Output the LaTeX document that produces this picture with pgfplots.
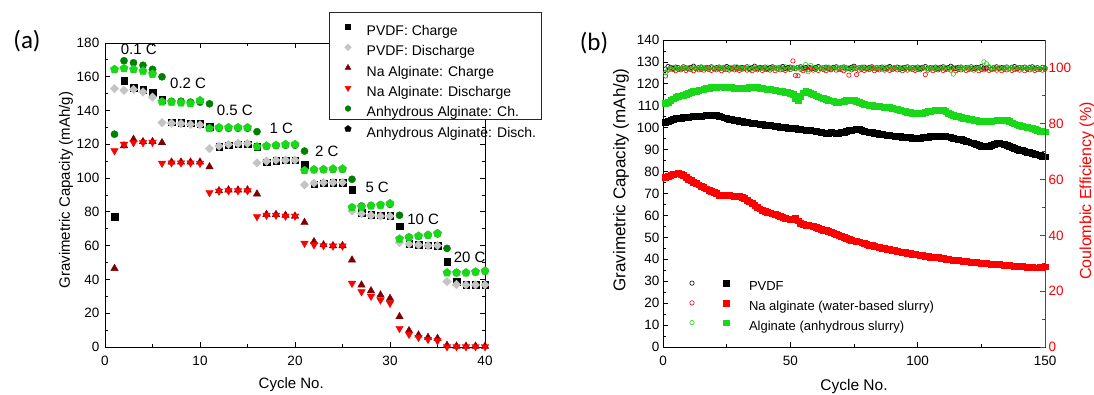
\documentclass[border=0pt]{standalone}
\usepackage{fontspec}
\setmainfont{Liberation Sans}
\newfontfamily\panelfont{Carlito}
\usepackage{pgfplots}
\usepackage{pgfplotstable}
\pgfplotsset{compat=1.18}
\definecolor{dgreen}{RGB}{0,128,0}
\definecolor{bgreen}{RGB}{25,215,25}
\definecolor{wine}{RGB}{128,0,0}
\definecolor{lgray}{RGB}{196,196,196}

\pgfplotstableread{
n pc pd nc nd ac ad
1 77 153 46.5 116.2 126 164.4
2 157.5 152 119.2 120 169.5 165
3 153.5 152.5 123 121 168.3 164.4
4 152.5 151 121.6 121 166.8 163.4
5 150.5 148 121.6 121.2 164.4 161.6
6 146.5 132.8 121 108.8 160 145.2
7 133 132.5 109.5 109 145.5 145
8 132.8 132.3 109.5 109 145.5 144.6
9 132.5 131.8 109.5 109 145 144.2
10 132.3 131.5 109.5 108.8 145 146
11 130.5 117.5 106.7 91.4 144 129.4
12 118.5 119 92.5 92.3 129.5 130
13 119.5 120 93 92.5 129.5 130
14 120 120.5 93 92.5 129.5 130
15 120 120.5 93 92.5 129.5 130
16 118.5 109 90.6 77.2 127.5 118.6
17 109.5 110 78.5 78 119 119
18 110.2 110.7 78.5 78 119.3 119.5
19 110.5 110.7 78 77.5 119.5 120
20 110.5 110.7 77.5 77.5 119.5 120
21 108 96 73.8 61.4 116 104.5
22 96.5 97 62.4 60.5 105 105
23 97 97.3 60.5 60 105 105.2
24 97.2 97.5 60 59.8 105.2 105.5
25 97.3 97.5 60 59.8 105.3 105.5
26 93 80.5 51.5 37.7 99.3 82.7
27 79.5 79 36.7 32.7 83.5 83
28 78.5 78 33.3 30 83.8 83.5
29 78 77.5 30.8 27.8 84.2 84
30 77.8 77.5 28.8 25.9 84.5 85
31 71.6 61.8 18 11 78 64
32 61 61 9.7 7.5 65 65
33 60.5 60.5 7.1 5.7 65.7 65.7
34 60.2 60 5.7 4.5 66.3 66.3
35 60 60 5.1 3.7 67 67.3
36 50.5 38.7 1 0.2 58.4 44
37 38.7 37 0.5 0.2 44 44
38 37 36.8 0.5 0.2 44 44
39 37 36.8 0.5 0.2 44.5 44.5
40 37 36.8 0.5 0.2 45 45
}\tabA

\pgfplotstableread{
n pv na alg bk rd gr
1 102.5 77.5 111.0 99.6 97.1 98.3
2 103.0 78.0 111.8 100.5 99.2 99.5
3 103.5 78.4 112.5 100.2 99.6 99.9
4 104.0 78.8 113.2 99.8 99.4 100.2
5 104.5 79.0 113.8 100.3 99.0 99.7
6 104.6 79.1 114.2 100.1 99.5 100.0
7 104.5 78.8 114.6 99.7 99.3 99.8
8 104.8 78.2 115.0 100.4 99.8 100.3
9 105.0 77.5 115.4 100.0 99.1 99.9
10 104.9 76.7 115.8 99.9 99.6 100.1
11 105.0 76.0 116.2 100.2 99.4 99.6
12 105.1 75.3 116.5 100.6 99.0 100.2
13 105.3 74.6 116.8 99.8 99.7 99.9
14 105.2 74.0 117.0 100.1 99.3 100.0
15 105.4 73.4 117.3 100.3 99.5 100.4
16 105.5 72.8 117.6 99.9 99.2 99.8
17 105.6 72.2 117.9 100.2 99.8 100.1
18 105.7 71.6 118.1 100.0 99.4 99.7
19 105.8 71.0 118.3 100.4 99.1 100.2
20 105.9 70.5 118.5 99.8 99.6 100.0
21 105.7 70.0 118.6 100.1 99.3 99.9
22 105.4 69.4 118.7 100.3 99.7 100.3
23 105.0 69.0 118.7 99.9 99.0 99.8
24 104.6 69.2 118.6 100.2 99.5 100.1
25 104.3 69.3 118.5 100.5 99.4 100.0
26 104.0 69.1 118.4 100.0 99.2 99.7
27 103.8 69.0 118.3 99.7 99.8 100.2
28 103.6 68.9 118.2 100.3 99.3 99.9
29 103.3 68.8 118.1 100.1 99.6 100.4
30 103.0 68.6 118.0 99.9 99.1 100.0
31 102.8 68.3 118.0 100.2 99.5 99.8
32 102.6 67.8 118.1 100.0 99.8 100.1
33 102.5 67.1 118.2 100.4 99.2 99.9
34 102.3 66.3 118.3 99.8 99.4 100.3
35 102.1 65.5 118.4 100.1 99.0 99.7
36 101.9 64.6 118.4 100.6 99.6 100.0
37 101.8 63.8 118.3 99.9 99.3 100.2
38 101.7 63.1 118.2 100.2 99.7 99.8
39 101.5 62.5 118.0 100.0 99.1 100.1
40 101.3 62.0 117.8 100.3 99.5 99.9
41 101.2 61.6 117.6 99.8 99.4 100.3
42 101.0 61.2 117.4 100.1 99.2 99.7
43 100.9 60.8 117.3 100.4 99.8 100.0
44 100.8 60.4 117.1 100.0 99.0 100.2
45 100.6 60.0 116.9 99.9 99.6 99.8
46 100.4 59.6 116.7 100.2 99.3 100.1
47 100.3 59.2 116.5 100.5 99.5 99.9
48 100.1 58.8 116.3 99.8 99.1 100.4
49 99.9 58.5 116.1 100.1 99.7 99.6
50 99.7 58.2 115.8 100.3 99.4 100.0
51 99.8 58.3 115.2 100.0 102.5 100.2
52 99.6 58.8 113.5 99.7 97.3 99.8
53 99.4 57.6 112.5 100.2 97.2 100.1
54 99.3 56.4 114.5 100.4 99.5 99.9
55 99.1 56.0 116.0 99.9 99.0 100.3
56 99.0 55.7 116.6 100.1 99.6 101.2
57 98.9 55.5 116.3 100.3 99.3 98.6
58 98.8 55.3 115.8 100.0 99.8 100.9
59 98.6 55.0 115.2 99.8 99.2 100.0
60 98.4 54.6 114.6 100.2 99.5 99.8
61 98.2 54.2 114.1 100.5 99.1 100.2
62 98.0 53.8 113.7 99.9 99.7 99.9
63 97.7 53.4 113.3 100.1 99.4 100.1
64 97.5 53.1 112.9 100.3 99.0 99.7
65 97.6 52.9 112.6 100.0 99.6 100.3
66 97.8 52.5 112.3 99.6 99.3 100.0
67 97.7 52.0 112.0 100.2 99.8 99.8
68 97.6 51.5 111.8 100.4 99.2 100.2
69 97.5 51.0 111.7 99.9 99.5 99.9
70 97.8 50.5 111.9 100.1 99.4 100.1
71 98.1 50.0 112.2 100.3 99.0 100.4
72 98.4 49.5 112.4 100.0 99.6 99.8
73 98.7 49.1 112.6 99.8 97.4 100.0
74 98.9 48.8 112.7 100.2 99.3 99.7
75 99.1 48.5 112.5 100.6 99.7 100.2
76 99.3 48.2 112.1 99.9 97.6 99.9
77 99.5 48.0 111.6 100.1 99.2 100.1
78 99.0 47.6 111.2 100.0 99.5 100.3
79 98.5 47.2 110.8 100.3 99.1 99.8
80 98.2 46.9 110.5 99.8 99.6 100.0
81 98.0 46.6 110.3 100.2 99.4 99.9
82 97.8 46.3 110.1 100.4 99.8 100.2
83 97.6 46.0 109.9 99.9 99.0 99.7
84 97.4 45.7 109.8 100.1 99.5 100.1
85 97.2 45.4 109.7 100.0 99.3 100.0
86 97.0 45.1 109.6 100.3 99.7 99.8
87 96.8 44.9 109.5 99.7 99.2 100.3
88 96.6 44.7 109.4 100.2 99.6 99.9
89 96.5 44.5 109.2 100.5 99.1 100.1
90 96.4 44.2 109.0 99.9 99.4 99.7
91 96.3 44.0 108.7 100.1 99.8 100.2
92 96.1 43.7 108.4 100.3 99.3 100.0
93 96.0 43.5 108.1 100.0 99.5 99.8
94 95.8 43.3 107.8 99.8 99.0 100.1
95 95.7 43.1 107.5 100.2 99.6 99.9
96 95.6 42.9 107.2 100.4 99.2 100.3
97 95.5 42.7 107.0 99.9 99.7 99.7
98 95.4 42.5 106.8 100.1 99.4 100.0
99 95.3 42.3 106.7 100.0 99.1 100.2
100 95.2 42.1 106.6 100.3 99.5 99.8
101 95.3 41.9 106.6 99.8 99.3 100.1
102 95.5 41.7 106.8 100.2 99.8 99.9
103 95.6 41.5 107.1 100.5 97.6 100.3
104 95.8 41.3 107.4 99.9 99.2 99.7
105 96.0 41.1 107.6 100.1 99.6 100.0
106 96.1 41.0 107.8 100.0 99.0 100.2
107 96.2 40.9 108.0 100.3 99.5 99.8
108 96.3 40.8 108.1 99.7 99.3 100.1
109 96.2 40.6 108.2 100.2 99.7 99.9
110 96.1 40.4 108.1 100.4 99.1 100.0
111 96.0 40.2 107.6 99.9 99.4 100.2
112 95.9 40.0 106.8 100.1 99.6 99.8
113 95.6 39.8 106.0 100.6 99.2 100.0
114 95.3 39.7 105.6 100.0 99.8 97.8
115 95.0 39.6 105.4 99.8 99.0 100.1
116 94.8 39.5 105.1 100.2 99.5 99.9
117 94.6 39.4 104.8 100.3 99.3 100.3
118 94.4 39.3 104.5 99.9 99.7 99.7
119 94.0 39.1 104.2 100.1 99.1 100.0
120 93.6 38.9 104.0 100.0 99.4 100.2
121 93.2 38.8 103.8 100.4 99.6 99.8
122 92.8 38.7 103.5 99.8 99.2 100.1
123 92.4 38.5 103.3 100.2 99.8 99.9
124 92.0 38.4 103.1 100.1 99.0 100.0
125 91.6 38.3 102.9 100.5 99.5 100.3
126 91.4 38.2 102.8 99.9 99.3 102.2
127 91.3 38.1 102.7 100.0 99.7 101.5
128 91.6 38.0 102.8 100.3 99.1 100.4
129 92.0 37.9 103.0 99.7 99.4 99.8
130 92.4 37.8 103.2 100.2 99.6 100.1
131 92.8 37.7 103.4 100.4 99.2 99.9
132 93.0 37.6 103.5 99.9 99.8 100.2
133 92.7 37.5 103.6 100.1 99.0 99.7
134 92.3 37.4 103.5 100.0 99.5 100.0
135 91.9 37.3 103.3 100.3 99.3 100.3
136 91.5 37.2 102.8 99.8 99.7 99.8
137 91.1 37.1 102.3 100.2 99.1 100.1
138 90.7 37.0 101.8 100.5 99.4 99.9
139 90.3 36.9 101.4 99.9 99.6 100.2
140 89.9 36.8 101.0 100.1 99.2 100.0
141 89.6 36.7 100.7 100.0 99.8 99.8
142 89.3 36.6 100.5 100.3 99.0 100.1
143 89.0 36.5 100.3 99.8 99.5 99.9
144 88.7 36.4 100.0 100.2 99.3 100.3
145 88.4 36.3 99.6 100.4 99.7 99.7
146 88.0 36.2 99.2 99.9 99.1 100.0
147 87.7 36.2 98.8 100.1 99.4 100.2
148 87.4 36.3 98.5 99.6 99.6 99.8
149 87.1 36.5 98.3 100.2 99.2 100.1
150 86.8 36.6 98.2 100.0 99.5 99.9
}\tabB

\pgfplotsset{
  myaxis/.style={
    scale only axis,
    tick align=inside,
    major tick length=5pt, minor tick length=3pt,
    axis line style={line width=0.8pt},
    tick style={line width=0.8pt, black},
    clip=false,
    /pgf/number format/assume math mode=true,
    tick label style={font=\fontsize{13.5}{16}\selectfont},
    xticklabel style={yshift=-5.5pt},
  }
}

\begin{document}
\begin{tikzpicture}
\useasboundingbox (0pt,0pt) rectangle (1094pt,394pt);
\node[font=\panelfont\fontsize{25}{28}\selectfont, inner sep=0pt] at (27pt,353pt) {(a)};
\node[font=\panelfont\fontsize{25}{28}\selectfont, inner sep=0pt] at (594pt,350.7pt) {(b)};

% ---------------- panel (a)
\begin{axis}[myaxis,
  at={(105pt,47pt)}, anchor=south west,
  width=380pt, height=304pt,
  xmin=0, xmax=40, ymin=0, ymax=180,
  xtick={0,10,20,30,40}, ytick={0,20,...,180},
  minor x tick num=1, minor y tick num=1,
  yticklabel style={xshift=-2.2pt},
  xlabel={Cycle No.}, ylabel={Gravimetric Capacity (mAh/g)},
  label style={font=\fontsize{15}{18}\selectfont},
  xlabel style={at={(axis description cs:0.49,-0.138)}, anchor=base},
  ylabel style={at={(axis description cs:-0.1026,0.516)}, anchor=center},
  legend cell align=left,
  legend style={draw=none, fill=none, inner sep=0pt, outer sep=0pt,
    at={(axis description cs:0.5921,1.070)}, anchor=north west,
    row sep=3.9pt, column sep=9.7pt,
    font=\fontsize{14}{16}\selectfont,
    nodes={inner sep=0pt, text height=10pt, text depth=3pt}},
  legend image code/.code={\path[draw=none, fill=none] (-18pt,-3pt) rectangle (9pt,10pt);
    \draw[#1, every mark/.append style={scale=0.8}] plot coordinates {(0pt,4.8pt)};},
]
\filldraw[fill=white, draw=black!85, line width=0.8pt]
  (axis description cs:0.5895,1.101) rectangle (axis description cs:1.1487,0.750);
\addplot[only marks, mark=square*, mark size=3.3pt, black] table[x=n,y=pc]{\tabA};
\addlegendentry{PVDF: Charge}
\addplot[only marks, mark=square*, mark options={rotate=45}, mark size=3pt, lgray] table[x=n,y=pd]{\tabA};
\addlegendentry{PVDF: Discharge}
\addplot[only marks, mark=triangle*, mark size=4.3pt, wine] table[x=n,y=nc]{\tabA};
\addlegendentry{Na Alginate: Charge}
\addplot[only marks, mark=triangle*, mark options={rotate=180}, mark size=4.3pt, red] table[x=n,y=nd]{\tabA};
\addlegendentry{Na Alginate: Discharge}
\addplot[only marks, mark=*, mark size=3.6pt, dgreen] table[x=n,y=ac]{\tabA};
\addlegendentry{Anhydrous Alginate: Ch.}
\addplot[only marks, mark=pentagon*, mark size=4.3pt, bgreen, forget plot] table[x=n,y=ad]{\tabA};
\addlegendimage{only marks, mark=pentagon*, mark size=4.3pt, black}
\addlegendentry{Anhydrous Alginate: Disch.}
\begin{scope}[every node/.style={anchor=base west, inner sep=0pt, font=\fontsize{15}{18}\selectfont}]
\node at (axis cs:1.65,172.9) {0.1 C};
\node at (axis cs:6.84,153.1) {0.2 C};
\node at (axis cs:11.76,136.8) {0.5 C};
\node at (axis cs:17.3,126.5) {1 C};
\node at (axis cs:22.1,112.7) {2 C};
\node at (axis cs:27.4,91.4) {5 C};
\node at (axis cs:31.8,72.8) {10 C};
\node at (axis cs:36.7,49.9) {20 C};
\end{scope}
\end{axis}

% ---------------- panel (b), left axis
\begin{axis}[myaxis,
  at={(663pt,47pt)}, anchor=south west,
  width=382pt, height=307pt,
  xmin=0, xmax=150, ymin=0, ymax=140,
  xtick={0,50,100,150}, ytick={0,10,...,140},
  minor x tick num=1, minor y tick num=1,
  ytick pos=left,
  xlabel={Cycle No.}, ylabel={Gravimetric Capacity (mAh/g)},
  xlabel style={font=\fontsize{15.5}{18}\selectfont, at={(axis description cs:0.5,-0.143)}, anchor=base},
  ylabel style={font=\fontsize{17}{20}\selectfont, at={(axis description cs:-0.11,0.544)}, anchor=center},
  legend columns=2,
  legend cell align=left,
  legend style={draw=none, fill=none, inner sep=0pt, outer sep=0pt,
    at={(axis description cs:0.0628,0.2241)}, anchor=north west,
    row sep=4pt, column sep=5pt,
    font=\fontsize{13}{15}\selectfont,
    nodes={inner sep=0pt, text height=9.5pt, text depth=3pt}},
  legend image code/.code={\path[draw=none, fill=none] (-5pt,-3pt) rectangle (18pt,9.5pt);
    \draw[#1] plot coordinates {(0pt,4.6pt)};},
]
\addplot[forget plot, only marks, mark=square*, mark size=2.9pt, black] table[x=n,y=pv]{\tabB};
\addplot[forget plot, only marks, mark=square*, mark size=2.9pt, red] table[x=n,y=na]{\tabB};
\addplot[forget plot, only marks, mark=square*, mark size=2.9pt, bgreen] table[x=n,y=alg]{\tabB};
\addlegendimage{only marks, mark=o, mark size=2.2pt, line width=0.6pt, black}
\addlegendentry{\null}
\addlegendimage{only marks, mark=square*, mark size=2.9pt, black}
\addlegendentry{PVDF}
\addlegendimage{only marks, mark=o, mark size=2.2pt, line width=0.6pt, red}
\addlegendentry{\null}
\addlegendimage{only marks, mark=square*, mark size=2.9pt, red}
\addlegendentry{Na alginate (water-based slurry)}
\addlegendimage{only marks, mark=o, mark size=2.2pt, line width=0.6pt, bgreen}
\addlegendentry{\null}
\addlegendimage{only marks, mark=square*, mark size=2.9pt, bgreen}
\addlegendentry{Alginate (anhydrous slurry)}
\end{axis}

% ---------------- panel (b), right axis
\begin{axis}[myaxis,
  at={(663pt,47pt)}, anchor=south west,
  width=382pt, height=307pt,
  xmin=0, xmax=150, ymin=0, ymax=110,
  axis x line=none, axis y line*=right,
  ytick={0,20,...,100}, minor y tick num=1,
  axis line style={red, line width=0.8pt},
  tick style={red, line width=0.8pt},
  yticklabel style={red},
  ylabel={Coulombic Efficiency (\%)},
  ylabel style={red, font=\fontsize{16}{19}\selectfont, at={(axis description cs:1.11,0.508)}, anchor=center},
]
\addplot[only marks, mark=o, mark size=2.2pt, line width=0.6pt, black] table[x=n,y=bk]{\tabB};
\addplot[only marks, mark=o, mark size=2.2pt, line width=0.6pt, red] table[x=n,y=rd]{\tabB};
\addplot[only marks, mark=o, mark size=2.2pt, line width=0.6pt, bgreen] table[x=n,y=gr]{\tabB};
\end{axis}
\end{tikzpicture}
\end{document}
